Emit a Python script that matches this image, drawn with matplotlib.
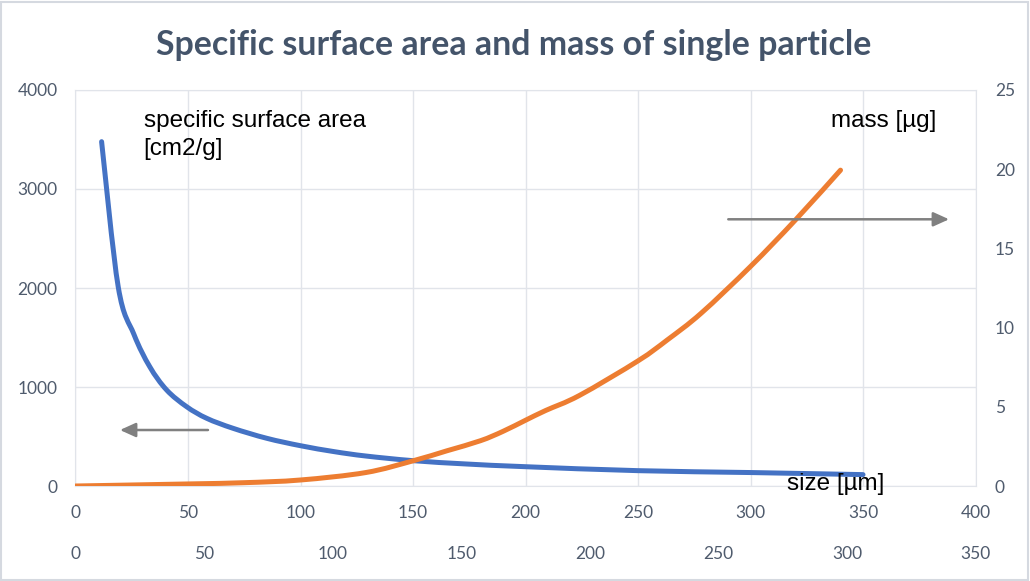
import matplotlib

matplotlib.use("Agg")
import matplotlib.pyplot as plt
from matplotlib.patches import PathPatch, Rectangle
from matplotlib.path import Path

# values
ssa_size = [11.6, 19, 26, 33, 40.5, 49.4, 58.3, 70, 85, 100,
            115, 129, 150, 174, 200, 250, 300, 350]
ssa = [3478, 2010, 1530, 1205, 970, 801, 684, 583, 482, 407,
       347, 303, 256, 222, 195, 155, 136, 115]

mass_size = [0, 50, 75, 100, 129, 150, 165, 180, 190, 200, 209, 224,
             250, 263, 278, 300, 320, 340]
mass = [0, 0.13, 0.21, 0.38, 0.85, 1.59, 2.22, 2.86, 3.45, 4.15, 4.77, 5.72,
        7.9, 9.22, 10.9, 13.86, 16.8, 19.94]

x_ticks = [0, 50, 100, 150, 200, 250, 300, 350, 400]
x2_ticks = [0, 50, 100, 150, 200, 250, 300, 350]
y_ticks = [0, 1000, 2000, 3000, 4000]
y2_ticks = [0, 5, 10, 15, 20, 25]

TITLE = "Specific surface area and mass of single particle"
BLUE = "#4472C4"
ORANGE = "#ED7D31"
GRID = "#e1e4ea"
TICK = "#4f5b6d"


def smooth_path(xs, ys):
    # Excel-style smoothed line: cubic Bezier through every data point
    pts = list(zip(xs, ys))
    verts = [pts[0]]
    codes = [Path.MOVETO]
    n = len(pts)
    for i in range(n - 1):
        p0 = pts[max(i - 1, 0)]
        p1 = pts[i]
        p2 = pts[i + 1]
        p3 = pts[min(i + 2, n - 1)]
        c1 = (p1[0] + (p2[0] - p0[0]) / 6, p1[1] + (p2[1] - p0[1]) / 6)
        c2 = (p2[0] - (p3[0] - p1[0]) / 6, p2[1] - (p3[1] - p1[1]) / 6)
        verts += [c1, c2, p2]
        codes += [Path.CURVE4] * 3
    return Path(verts, codes)


plt.rcParams["font.family"] = ["Lato", "DejaVu Sans"]

fig = plt.figure(figsize=(10.30, 5.81), dpi=100)
fig.patch.set_facecolor("white")
fig.patches.append(Rectangle((0.001, 0.001), 0.997, 0.996, transform=fig.transFigure,
                             fill=False, edgecolor="#d5d9e0", lw=1.5))

ax = fig.add_axes([0.0733, 0.1635, 0.8738, 0.6816])
ax.set_xlim(0, 400)
ax.set_ylim(0, 4000)
ax.set_xticks(x_ticks)
ax.set_yticks(y_ticks)
ax.grid(True, color=GRID, lw=1)
ax.set_axisbelow(True)
for s in ax.spines.values():
    s.set_color(GRID)
ax.tick_params(length=0, labelsize=12.5, colors=TICK)
ax.tick_params(axis="y", pad=13)
ax.tick_params(axis="x", pad=14)

ax.add_patch(PathPatch(smooth_path(ssa_size, ssa), transform=ax.transData,
                       fill=False, edgecolor=BLUE, lw=3.6, capstyle="round",
                       joinstyle="round", zorder=3))

axr = ax.twinx()
axr.set_ylim(0, 25)
axr.set_yticks(y2_ticks)
axr.tick_params(length=0, labelsize=12.5, colors=TICK, pad=14)
for s in axr.spines.values():
    s.set_visible(False)
axr.add_patch(PathPatch(smooth_path(mass_size, mass), transform=axr.transData,
                        fill=False, edgecolor=ORANGE, lw=3.6, capstyle="round",
                        joinstyle="round", zorder=3))

sec = ax.secondary_xaxis("bottom", functions=(lambda v: v * 350 / 400,
                                              lambda v: v * 400 / 350))
sec.set_xticks(x2_ticks)
sec.tick_params(length=0, labelsize=12.5, colors=TICK, pad=43)
sec.spines["bottom"].set_visible(False)

# arrows pointing to the axes each curve belongs to
arrow = dict(arrowstyle="-|>,head_length=0.95,head_width=0.43", color="#808080",
             lw=1.8, shrinkA=0, shrinkB=0)
ax.annotate("", xy=(0.0494, 0.1414), xytext=(0.1472, 0.1414),
            xycoords="axes fraction", arrowprops=arrow)
axr.annotate("", xy=(0.9706, 0.6735), xytext=(0.7253, 0.6735),
             xycoords="axes fraction", arrowprops=arrow)

lab = dict(family=["Liberation Sans", "DejaVu Sans"], fontsize=17.5, color="black",
           va="baseline", ha="left", transform=ax.transAxes)
ax.text(0.0756, 0.907, "specific surface area", **lab)
ax.text(0.0756, 0.836, "[cm2/g]", **lab)
ax.text(0.839, 0.907, "mass [µg]", **lab)
ax.text(0.7906, -0.0101, "size [µm]", zorder=5, **lab)

fig.text(0.4985, 0.905, TITLE, ha="center", va="baseline", fontsize=24.4,
         fontweight="bold", color="#44546A")

fig.savefig("out.png", dpi=100)
